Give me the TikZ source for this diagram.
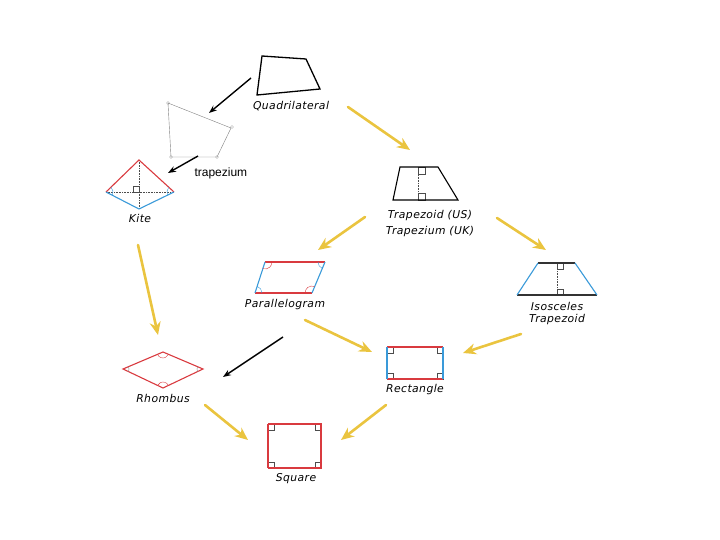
\documentclass[tikz,border=0pt]{standalone}
\usepackage{fontspec}
\setmainfont{Liberation Sans}
\newfontfamily\sketchfont{DejaVu Sans}[LetterSpace=4]
\usetikzlibrary{arrows.meta}
\usetikzlibrary{angles}

\definecolor{edgered}{HTML}{D93A3F}
\definecolor{edgeblue}{HTML}{3A9AD9}
\definecolor{flowyellow}{HTML}{EAC43F}

\begin{document}
\begin{tikzpicture}[x=1pt,y=-1pt]
  \tikzstyle{label}=[font=\sketchfont\itshape\fontsize{10.8}{12}\selectfont, inner sep=1pt]
  \tikzstyle{flow}=[-{Stealth[length=13pt,width=11pt]}, line width=2.6pt, draw=flowyellow, line cap=round]
  \tikzstyle{hint}=[-{Stealth[length=8pt,width=6pt]}, line width=1.4pt]
  \tikzstyle{ramark}=[line width=0.5pt, draw=black!70]
  \tikzstyle{dots}=[densely dotted, line width=0.6pt, draw=black!70]
  \tikzstyle{edge}=[line width=1.1pt]

  \useasboundingbox (0,0) rectangle (720,540);

  % quadrilateral and its sketch
  \draw[line width=1.3pt] (262,56) -- (306,59) -- (320,89) -- (257,95) -- cycle;
  \node[label] (quadlbl) at (291,106) {Quadrilateral};
  \draw[gray, line width=0.4pt] (168,103) -- (231,128) -- (217,157) -- (171,157) -- cycle;
  \foreach \p in {(168,103),(232,127),(217,157),(171,157)}
    \draw[gray, line width=0.3pt] \p circle (1.5pt);
  \node[font=\fontsize{12}{14}\selectfont, anchor=west] (trzlbl) at (191,173) {trapezium};

  % kite
  \coordinate (ka) at (106,192); \coordinate (kb) at (139,160);
  \coordinate (kc) at (174,192); \coordinate (kd) at (139,209);
  \draw[dots] (kb) -- (kd) (ka) -- (kc);
  \draw[ramark] (133,186) rectangle (139,192);
  \draw[edge, edgered] (ka) -- (kb) -- (kc);
  \draw[edge, edgeblue] (ka) -- (kd) -- (kc);
  \pic[draw=edgeblue, angle radius=7pt] {angle=kd--ka--kb};
  \pic[draw=edgeblue, angle radius=7pt] {angle=kb--kc--kd};
  \node[label] (kitelbl) at (140,218) {Kite};

  % trapezoid
  \draw[dots] (418,167) -- (418,200);
  \draw[ramark] (418,167) rectangle (425,174) (418,193) rectangle (425,200);
  \draw[edge] (400,167) -- (438,167) -- (458,200) -- (393,200) -- cycle;
  \node[label] (trapus) at (430,216) {Trapezoid (US)};
  \node[label] (trapuk) at (430,232) {Trapezium (UK)};

  % parallelogram
  \coordinate (pa) at (265,262); \coordinate (pb) at (325,262);
  \coordinate (pc) at (312,293); \coordinate (pd) at (255,293);
  \draw[edge, edgered] (pa) -- (pb) (pc) -- (pd);
  \draw[edge, edgeblue] (pb) -- (pc) (pd) -- (pa);
  \pic[draw=edgered, angle radius=7pt] {angle=pd--pa--pb};
  \pic[draw=edgeblue, angle radius=7pt] {angle=pa--pb--pc};
  \pic[draw=edgered, angle radius=7pt] {angle=pb--pc--pd};
  \pic[draw=edgeblue, angle radius=7pt] {angle=pc--pd--pa};
  \node[label] (paralbl) at (285,305) {Parallelogram};

  % isosceles trapezoid
  \draw[dots] (557,263) -- (557,295);
  \draw[ramark] (557,263) rectangle (563,269) (557,289) rectangle (563,295);
  \draw[edge, black!80] (538,263) -- (575,263) (597,295) -- (517,295);
  \draw[edge, edgeblue] (575,263) -- (597,295) (517,295) -- (538,263);
  \node[label] (isolbl) at (557,306) {Isosceles};
  \node[label] (isotrap) at (557,320) {Trapezoid};

  % rhombus
  \coordinate (ra) at (123,369); \coordinate (rb) at (163,352);
  \coordinate (rc) at (203,369); \coordinate (rd) at (163,388);
  \draw[edge, edgered] (ra) -- (rb) -- (rc) -- (rd) -- cycle;
  \pic[draw=gray, angle radius=6pt] {angle=rd--ra--rb};
  \pic[draw=edgered, angle radius=6pt] {angle=ra--rb--rc};
  \pic[draw=gray, angle radius=6pt] {angle=rb--rc--rd};
  \pic[draw=edgered, angle radius=6pt] {angle=rc--rd--ra};
  \node[label] (rhomlbl) at (163,398) {Rhombus};

  % rectangle
  \foreach \x/\y/\dx/\dy in {387/347/6/6, 443/347/-6/6, 443/379/-6/-6, 387/379/6/-6}
    \draw[ramark] (\x,\y) rectangle +(\dx,\dy);
  \draw[edge, edgered] (387,347) -- (443,347) (443,379) -- (387,379);
  \draw[edge, edgeblue] (443,347) -- (443,379) (387,379) -- (387,347);
  \node[label] (rectlbl) at (415,390) {Rectangle};

  % square
  \foreach \x/\y/\dx/\dy in {268/424/6/6, 321/424/-6/6, 321/468/-6/-6, 268/468/6/-6}
    \draw[ramark] (\x,\y) rectangle +(\dx,\dy);
  \draw[edge, edgered] (268,424) -- (321,424) -- (321,468) -- (268,468);
  \draw[edgered, line width=2pt] (268,468) -- (268,424);
  \node[label] (sqlbl) at (296,479) {Square};

  % arrows
  \coordinate (h1s) at (251,78);  \coordinate (h1e) at (209,113);
  \coordinate (h2s) at (198,156); \coordinate (h2e) at (168,173);
  \coordinate (h3s) at (283,337); \coordinate (h3e) at (223,377);
  \foreach \s/\e in {h1s/h1e, h2s/h2e, h3s/h3e}
    \draw[hint] (\s) -- (\e);

  \coordinate (f1s) at (348,107); \coordinate (f1e) at (410,150);
  \coordinate (f2s) at (365,217); \coordinate (f2e) at (318,250);
  \coordinate (f3s) at (497,218); \coordinate (f3e) at (546,250);
  \coordinate (f4s) at (138,245); \coordinate (f4e) at (158,335);
  \coordinate (f5s) at (305,320); \coordinate (f5e) at (372,352);
  \coordinate (f6s) at (521,334); \coordinate (f6e) at (463,353);
  \coordinate (f7s) at (205,405); \coordinate (f7e) at (248,440);
  \coordinate (f8s) at (386,405); \coordinate (f8e) at (341,440);
  \foreach \s/\e in {f1s/f1e, f2s/f2e, f3s/f3e, f4s/f4e, f5s/f5e, f6s/f6e, f7s/f7e, f8s/f8e}
    \draw[flow] (\s) -- (\e);
\end{tikzpicture}
\end{document}
